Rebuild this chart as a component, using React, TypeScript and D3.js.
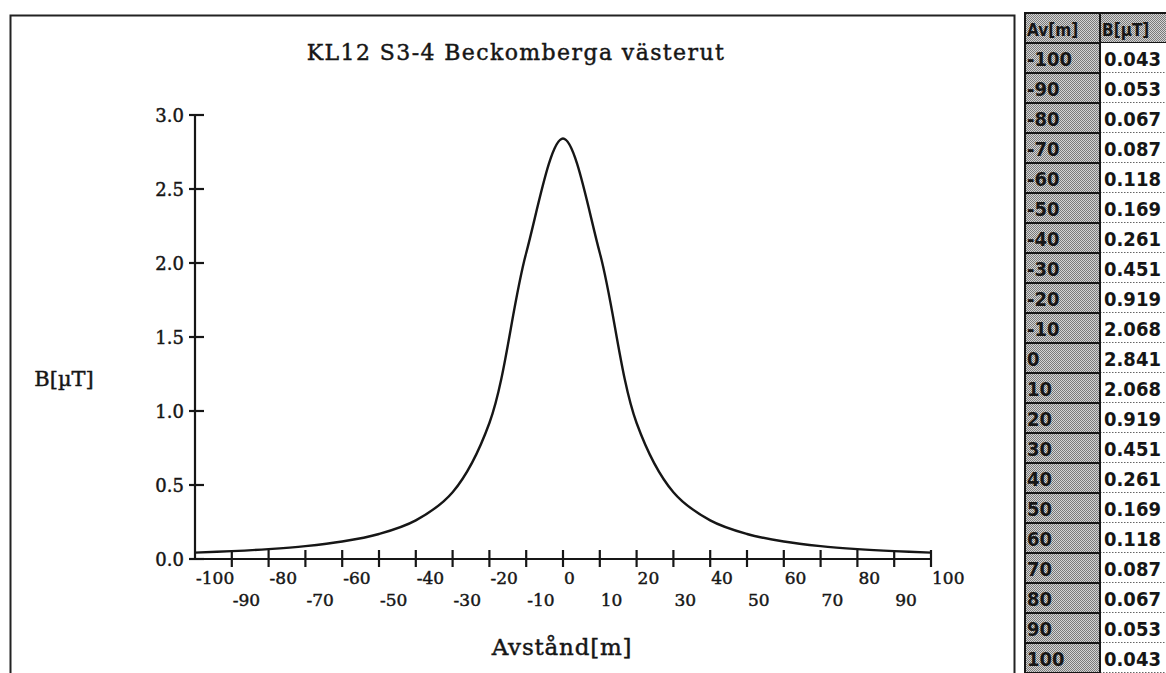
import React from "react";
import * as d3 from "d3";

const distances = [-100, -90, -80, -70, -60, -50, -40, -30, -20, -10, 0, 10, 20, 30, 40, 50, 60, 70, 80, 90, 100];
const fieldValues = [0.043, 0.053, 0.067, 0.087, 0.118, 0.169, 0.261, 0.451, 0.919, 2.068, 2.841, 2.068, 0.919, 0.451, 0.261, 0.169, 0.118, 0.087, 0.067, 0.053, 0.043];
const yTicks = [0, 0.5, 1.0, 1.5, 2.0, 2.5, 3.0];
const xTicks = [-90, -80, -70, -60, -50, -40, -30, -20, -10, 0, 10, 20, 30, 40, 50, 60, 70, 80, 90, 100];
const xLabels = [-100, -90, -80, -70, -60, -50, -40, -30, -20, -10, 0, 10, 20, 30, 40, 50, 60, 70, 80, 90, 100];
const tableValueLabels = ["0.043", "0.053", "0.067", "0.087", "0.118", "0.169", "0.261", "0.451", "0.919", "2.068", "2.841", "2.068", "0.919", "0.451", "0.261", "0.169", "0.118", "0.087", "0.067", "0.053", "0.043"];

const title = "KL12 S3-4 Beckomberga västerut";
const yTitle = "B[µT]";
const xTitle = "Avstånd[m]";

export default function App() {
  const W = 1166, H = 673;
  const x = d3.scaleLinear().domain([-100, 100]).range([195, 931]);
  const y = d3.scaleLinear().domain([0, 3]).range([559, 115]);
  const pts: [number, number][] = distances.map((d, i) => [d, fieldValues[i]]);
  const line = d3.line<[number, number]>().x(d => x(d[0])).y(d => y(d[1])).curve(d3.curveCatmullRom.alpha(0.5));
  const serif = "'DejaVu Serif', serif";
  const tfont = "'DejaVu Sans Condensed', 'DejaVu Sans', sans-serif";
  const ink = "#161616";
  const st = { stroke: ink, strokeWidth: 0.45 };

  const rowTop = 43, rowH = 30, c0 = 1025, c1 = 1100, c2 = 1170;

  return (
    <div style={{ position: "fixed", left: 0, top: 0, width: W, height: H, background: "#fff" }}>
      <svg width={W} height={H} style={{ display: "block" }}>
        <defs>
          <pattern id="dither" width="2" height="2" patternUnits="userSpaceOnUse">
            <rect width="2" height="2" fill="#d4d4d4" />
            <rect width="1" height="1" fill="#7a7a7a" />
            <rect x="1" y="1" width="1" height="1" fill="#7a7a7a" />
          </pattern>
        </defs>
        <rect width={W} height={H} fill="#fff" />
        {/* chart frame */}
        <path d="M10.5,680 L10.5,15.5 L1014.5,15.5 L1014.5,680" fill="none" stroke="#222" strokeWidth={2} />

        {/* title */}
        <text x={516} y={60} textAnchor="middle" fontFamily={serif} fontSize={22} letterSpacing={1.4} fill={ink} {...st}>{title}</text>

        {/* y axis */}
        <line x1={195} x2={195} y1={y(3)} y2={y(0)} stroke={ink} strokeWidth={2.2} />
        {yTicks.map(t => (
          <g key={"yt" + t}>
            <line x1={189} x2={204} y1={y(t)} y2={y(t)} stroke={ink} strokeWidth={2.2} />
            <text x={184} y={y(t) + 6.5} textAnchor="end" fontFamily={serif} fontSize={18} fill={ink} {...st}>{t.toFixed(1)}</text>
          </g>
        ))}
        <text x={64} y={386} textAnchor="middle" fontFamily={serif} fontSize={21} fill={ink} {...st}>{yTitle}</text>

        {/* x axis */}
        <line x1={195} x2={x(100)} y1={y(0)} y2={y(0)} stroke={ink} strokeWidth={2.2} />
        {xTicks.map(t => (
          <line key={"xt" + t} x1={x(t)} x2={x(t)} y1={y(0) - 9} y2={y(0) + 8} stroke={ink} strokeWidth={2.2} />
        ))}
        {xLabels.map((t, i) => (
          <text key={"xl" + t} x={x(t) + 1} y={i % 2 === 0 ? 584 : 606} textAnchor="start" fontFamily={serif} fontSize={17} fill={ink} {...st}>{String(t)}</text>
        ))}
        <text x={562} y={655} textAnchor="middle" fontFamily={serif} fontSize={23} letterSpacing={0.8} fill={ink} {...st}>{xTitle}</text>

        {/* curve */}
        <path d={line(pts) || ""} fill="none" stroke={ink} strokeWidth={2.4} />

        {/* table */}
        <rect x={c0} y={13} width={c2 - c0} height={rowTop - 13} fill="url(#dither)" stroke={ink} strokeWidth={2} />
        <line x1={c1} x2={c1} y1={13} y2={rowTop} stroke={ink} strokeWidth={2} />
        <text x={c0 + 2} y={36} fontFamily={tfont} fontWeight="bold" fontSize={17} fill={ink}>Av[m]</text>
        <text x={c1 + 2} y={36} fontFamily={tfont} fontWeight="bold" fontSize={17} fill={ink}>B[µT]</text>
        {distances.map((d, i) => {
          const top = rowTop + i * rowH;
          return (
            <g key={"row" + d}>
              <rect x={c0} y={top} width={c1 - c0} height={rowH} fill="url(#dither)" stroke={ink} strokeWidth={2} />
              <rect x={c1} y={top} width={c2 - c1} height={rowH} fill="#fff" />
              <line x1={c1} x2={c2} y1={top + rowH} y2={top + rowH} stroke="#333" strokeWidth={1.5} strokeDasharray="1.5,1.5" />
              <text x={c0 + 2} y={top + 23} fontFamily={tfont} fontWeight="bold" fontSize={20} fill={ink}>{String(d)}</text>
              <text x={c1 + 4} y={top + 23} fontFamily={tfont} fontWeight="bold" fontSize={20} fill={ink}>{tableValueLabels[i]}</text>
            </g>
          );
        })}
        <line x1={c1} x2={c1} y1={rowTop} y2={H} stroke={ink} strokeWidth={2} />
        <line x1={c0} x2={c0} y1={13} y2={H} stroke={ink} strokeWidth={2} />
      </svg>
    </div>
  );
}
